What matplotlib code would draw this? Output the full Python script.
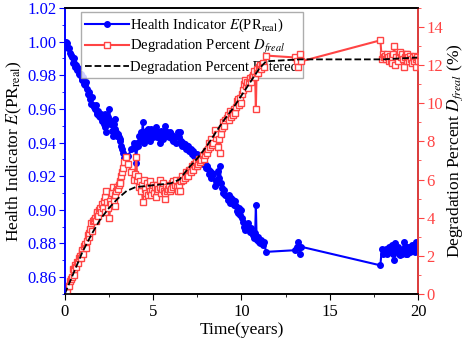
import numpy as np
import matplotlib.pyplot as plt
from matplotlib.ticker import MultipleLocator

plt.rcParams['font.family'] = ['Liberation Serif', 'DejaVu Serif']
plt.rcParams['mathtext.fontset'] = 'stix'

# time (years)
t = [0.05, 0.12, 0.20, 0.25, 0.30, 0.35, 0.40, 0.45, 0.50, 0.55,
     0.60, 0.65, 0.70, 0.75, 0.80, 0.85, 0.90, 0.95, 1.00, 1.05,
     1.10, 1.15, 1.20, 1.25, 1.30, 1.35, 1.40, 1.45, 1.50, 1.55,
     1.60, 1.65, 1.70, 1.75, 1.80, 1.85, 1.90, 1.95, 2.00, 2.05,
     2.10, 2.15, 2.20, 2.25, 2.30, 2.35, 2.40, 2.45, 2.53, 2.58,
     2.63, 2.68, 2.72, 2.77, 2.82, 2.86, 2.91, 2.96, 3.00, 3.05,
     3.10, 3.15, 3.20, 3.25, 3.30, 3.38, 3.45, 3.60, 3.75, 3.90,
     3.98, 4.05, 4.10, 4.15, 4.20, 4.25, 4.30, 4.35, 4.42, 4.48,
     4.55, 4.60, 4.65, 4.70, 4.75, 4.80, 4.85, 4.90, 4.95, 5.00,
     5.05, 5.10, 5.15, 5.20, 5.25, 5.30, 5.37, 5.42, 5.47, 5.52,
     5.56, 5.60, 5.65, 5.70, 5.75, 5.80, 5.85, 5.90, 5.95, 6.00,
     6.05, 6.10, 6.15, 6.22, 6.28, 6.34, 6.40, 6.45, 6.50, 6.55,
     6.60, 6.66, 6.72, 6.79, 6.85, 6.92, 6.98, 7.03, 7.07, 7.12,
     7.18, 7.24, 7.30, 7.36, 7.42, 7.48, 7.55, 7.60, 7.66, 7.74,
     7.80, 7.86, 7.93, 7.98, 8.04, 8.11, 8.17, 8.22, 8.30, 8.36,
     8.42, 8.49, 8.55, 8.61, 8.68, 8.74, 8.78, 8.84, 8.90, 8.97,
     9.04, 9.10, 9.16, 9.22, 9.28, 9.35, 9.41, 9.47, 9.53, 9.60,
     9.66, 9.72, 9.77, 9.82, 9.88, 9.94, 10.00, 10.05, 10.10, 10.15,
     10.20, 10.26, 10.32, 10.39, 10.44, 10.48, 10.55, 10.61, 10.67, 10.72,
     10.78, 10.82, 10.86, 10.90, 10.96, 11.01, 11.05, 11.12, 11.18, 11.24,
     11.30, 11.39, 13.04, 13.15, 13.23, 13.30, 13.40, 17.87, 17.95, 18.00,
     18.08, 18.15, 18.20, 18.25, 18.30, 18.35, 18.40, 18.45, 18.50, 18.55,
     18.60, 18.66, 18.72, 18.78, 18.85, 18.90, 18.95, 19.00, 19.05, 19.10,
     19.15, 19.20, 19.25, 19.30, 19.35, 19.40, 19.45, 19.50, 19.55, 19.60,
     19.67, 19.72, 19.78, 19.82, 19.86, 19.90, 19.95, 20.00]

# health indicator E(PR_real)
health = [1.000, 0.999, 0.996, 0.996, 0.993, 0.992, 0.991, 0.987, 0.990, 0.987,
          0.985, 0.986, 0.983, 0.984, 0.981, 0.980, 0.981, 0.978, 0.977, 0.979,
          0.975, 0.974, 0.976, 0.972, 0.969, 0.970, 0.968, 0.966, 0.963, 0.967,
          0.962, 0.961, 0.960, 0.962, 0.958, 0.957, 0.959, 0.956, 0.955, 0.957,
          0.953, 0.955, 0.951, 0.957, 0.949, 0.946, 0.952, 0.955, 0.960, 0.951,
          0.953, 0.947, 0.944, 0.951, 0.954, 0.948, 0.946, 0.944, 0.945, 0.943,
          0.941, 0.942, 0.938, 0.936, 0.934, 0.931, 0.928, 0.932, 0.936, 0.940,
          0.937, 0.928, 0.940, 0.938, 0.944, 0.941, 0.946, 0.943, 0.952, 0.940,
          0.945, 0.947, 0.942, 0.948, 0.944, 0.946, 0.941, 0.948, 0.945, 0.943,
          0.947, 0.944, 0.949, 0.946, 0.943, 0.945, 0.940, 0.944, 0.947, 0.945,
          0.942, 0.946, 0.950, 0.947, 0.944, 0.946, 0.945, 0.943, 0.946, 0.945,
          0.942, 0.944, 0.941, 0.943, 0.940, 0.944, 0.946, 0.943, 0.946, 0.940,
          0.941, 0.938, 0.940, 0.939, 0.936, 0.938, 0.938, 0.935, 0.935, 0.936,
          0.933, 0.935, 0.932, 0.933, 0.931, 0.933, 0.932, 0.929, 0.931, 0.930,
          0.927, 0.929, 0.927, 0.925, 0.926, 0.924, 0.921, 0.923, 0.919, 0.922,
          0.921, 0.914, 0.918, 0.916, 0.923, 0.919, 0.926, 0.916, 0.913, 0.910,
          0.912, 0.909, 0.908, 0.906, 0.909, 0.904, 0.907, 0.905, 0.906, 0.903,
          0.905, 0.902, 0.899, 0.898, 0.901, 0.897, 0.900, 0.895, 0.893, 0.890,
          0.888, 0.891, 0.889, 0.892, 0.889, 0.887, 0.889, 0.886, 0.885, 0.883,
          0.886, 0.903, 0.884, 0.882, 0.884, 0.881, 0.880, 0.882, 0.880, 0.879,
          0.881, 0.875, 0.876, 0.878, 0.881, 0.874, 0.878, 0.867, 0.877, 0.874,
          0.876, 0.875, 0.877, 0.874, 0.876, 0.878, 0.875, 0.878, 0.876, 0.879,
          0.874, 0.870, 0.880, 0.876, 0.878, 0.874, 0.875, 0.873, 0.876, 0.874,
          0.877, 0.881, 0.876, 0.874, 0.878, 0.874, 0.876, 0.878, 0.875, 0.877,
          0.879, 0.876, 0.878, 0.875, 0.881, 0.877, 0.876, 0.878]

# degradation percent D_freal (%)
degr = [0.0, 0.1, 0.4, 0.4, 0.7, 0.8, 0.9, 1.3, 1.0, 1.3,
        1.5, 1.4, 1.7, 1.6, 1.9, 2.0, 1.9, 2.2, 2.3, 2.1,
        2.5, 2.6, 2.4, 2.8, 3.1, 3.0, 3.2, 3.4, 3.7, 3.3,
        3.8, 3.9, 4.0, 3.8, 4.2, 4.3, 4.1, 4.4, 4.5, 4.3,
        4.7, 4.5, 4.9, 4.3, 5.1, 5.4, 4.8, 4.5, 4.0, 4.9,
        4.7, 5.3, 5.6, 4.9, 4.6, 5.2, 5.4, 5.6, 5.5, 5.7,
        5.9, 5.8, 6.2, 6.4, 6.6, 6.9, 7.2, 6.8, 6.4, 6.0,
        6.3, 7.2, 6.0, 6.2, 5.6, 5.9, 5.4, 5.7, 4.8, 6.0,
        5.5, 5.3, 5.8, 5.2, 5.6, 5.4, 5.9, 5.2, 5.5, 5.7,
        5.3, 5.6, 5.1, 5.4, 5.7, 5.5, 6.0, 5.6, 5.3, 5.5,
        5.8, 5.4, 5.0, 5.3, 5.6, 5.4, 5.5, 5.7, 5.4, 5.5,
        5.8, 5.6, 5.9, 5.7, 6.0, 5.6, 5.4, 5.7, 5.4, 6.0,
        5.9, 6.2, 6.0, 6.1, 6.4, 6.2, 6.2, 6.5, 6.5, 6.4,
        6.7, 6.5, 6.8, 6.7, 6.9, 6.7, 6.8, 7.1, 6.9, 7.0,
        7.3, 7.1, 7.3, 7.5, 7.4, 7.6, 7.9, 7.7, 8.1, 7.8,
        7.9, 8.6, 8.2, 8.4, 7.7, 8.1, 7.4, 8.4, 8.7, 9.0,
        8.8, 9.1, 9.2, 9.4, 9.1, 9.6, 9.3, 9.5, 9.4, 9.7,
        9.5, 9.8, 10.1, 10.2, 9.9, 10.3, 10.0, 10.5, 10.7, 11.0,
        11.2, 10.9, 11.1, 10.8, 11.1, 11.3, 11.1, 11.4, 11.5, 11.7,
        11.4, 9.7, 11.6, 11.8, 11.6, 11.9, 12.0, 11.8, 12.0, 12.1,
        11.9, 12.5, 12.4, 12.2, 11.9, 12.6, 12.2, 13.3, 12.3, 12.6,
        12.4, 12.5, 12.3, 12.6, 12.4, 12.2, 12.5, 12.2, 12.4, 12.1,
        12.6, 13.0, 12.0, 12.4, 12.2, 12.6, 12.5, 12.7, 12.4, 12.6,
        12.3, 11.9, 12.4, 12.6, 12.2, 12.6, 12.4, 12.2, 12.5, 12.3,
        12.1, 12.4, 12.2, 12.5, 11.9, 12.3, 12.4, 12.2]

# filtered degradation percent
t_filt = [0.0, 0.5, 1.0, 1.5, 2.0, 2.5, 3.0, 3.5, 4.0, 5.0, 6.0, 6.5, 7.0,
          7.5, 8.0, 8.5, 9.0, 9.5, 10.0, 10.5, 11.0, 11.4, 13.3, 18.0, 20.0]
degr_filt = [0.0, 1.1, 2.2, 3.1, 3.9, 4.5, 5.0, 5.4, 5.6, 5.7, 5.8, 6.0, 6.6,
             7.1, 7.7, 8.4, 9.1, 9.7, 10.4, 11.1, 11.8, 12.2, 12.3, 12.3, 12.4]

blue = '#0000FF'
red = '#FF4444'

fig = plt.figure(figsize=(4.66, 3.43), dpi=100)
ax1 = fig.add_axes([0.139, 0.143, 0.758, 0.834])
ax2 = ax1.twinx()

l1, = ax1.plot(t, health, '-o', color=blue, lw=1.5, ms=4,
               label='Health Indicator $E$(PR$_{\\mathrm{real}}$)')
l2, = ax2.plot(t, degr, '-s', color=red, lw=1.5, ms=5, mfc='white', mew=1,
               label='Degradation Percent $D_{freal}$')
l3, = ax2.plot(t_filt, degr_filt, '--', color='black', lw=1.3,
               label='Degradation Percent Filtered')

ax1.set_xlim(0, 20)
ax1.set_ylim(0.85, 1.02)
ax2.set_ylim(0, 15)

ax1.xaxis.set_major_locator(MultipleLocator(5))
ax1.xaxis.set_minor_locator(MultipleLocator(2.5))
ax1.yaxis.set_major_locator(MultipleLocator(0.02))
ax1.yaxis.set_minor_locator(MultipleLocator(0.01))
ax2.yaxis.set_major_locator(MultipleLocator(2))
ax2.yaxis.set_minor_locator(MultipleLocator(1))
ax1.yaxis.set_major_formatter(plt.FormatStrFormatter('%.2f'))

ax1.tick_params(axis='x', which='both', direction='out', labelsize=12)
ax1.tick_params(axis='x', which='major', length=4)
ax1.tick_params(axis='x', which='minor', length=2.5)
ax1.tick_params(axis='y', which='both', colors=blue, labelsize=12)
ax1.tick_params(axis='y', which='major', length=4, pad=2)
ax1.tick_params(axis='y', which='minor', length=2.5)
ax2.tick_params(axis='y', which='both', colors=red, labelsize=12)
ax2.tick_params(axis='y', which='major', length=4, pad=2)
ax2.tick_params(axis='y', which='minor', length=2.5)

ax1.spines['left'].set_color(blue)
ax2.spines['left'].set_color(blue)
ax2.spines['right'].set_color(red)
for sp in ['left', 'right', 'top', 'bottom']:
    ax1.spines[sp].set_linewidth(1.2)
    ax2.spines[sp].set_linewidth(1.2)

ax1.set_xlabel('Time(years)', fontsize=12.5, labelpad=1)
ax1.set_ylabel('Health Indicator $E$(PR$_{\\mathrm{real}}$)', fontsize=12.5, labelpad=2)
ax2.set_ylabel('Degradation Percent $D_{freal}$ (%)', fontsize=12.5, labelpad=2)

leg = ax1.legend(handles=[l1, l2, l3], loc='upper left', bbox_to_anchor=(0.045, 0.985),
                 fontsize=10.5, frameon=True, fancybox=False, edgecolor='#999999',
                 handlelength=3, handletextpad=0.1, borderpad=0.3, labelspacing=0.3,
                 borderaxespad=0)
leg.get_frame().set_linewidth(1)

fig.savefig('out.png', dpi=100)
